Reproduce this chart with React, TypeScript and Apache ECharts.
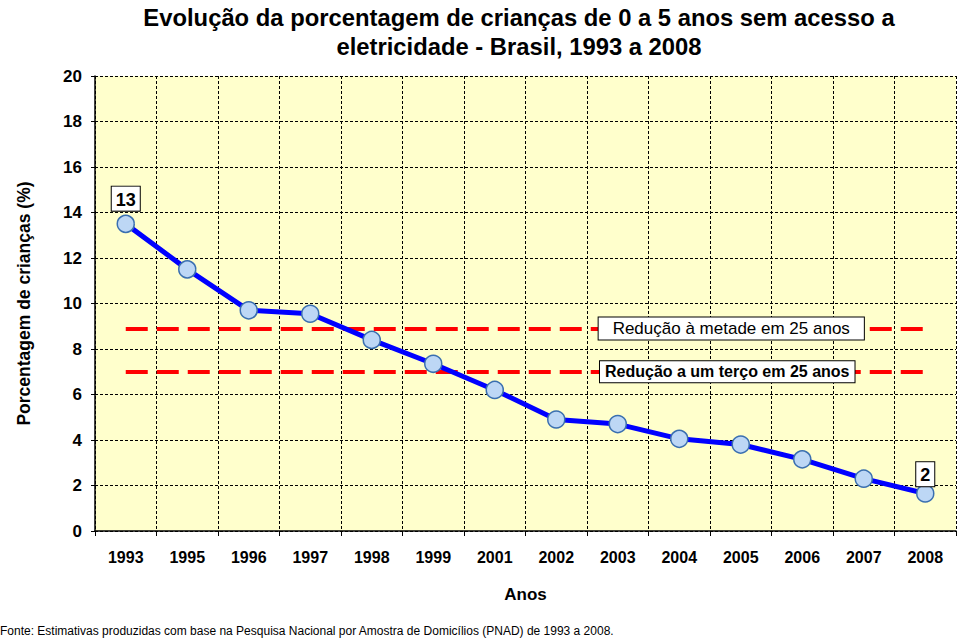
import React, { useEffect, useRef } from "react";
import * as echarts from "echarts";

const years = ["1993", "1995", "1996", "1997", "1998", "1999", "2001", "2002", "2003", "2004", "2005", "2006", "2007", "2008"];
const values = [13.5, 11.5, 9.7, 9.55, 8.4, 7.35, 6.2, 4.9, 4.7, 4.05, 3.8, 3.15, 2.3, 1.65];
const halfTarget = 8.9;
const thirdTarget = 7.0;
const pointLabels: Record<number, string> = { 0: "13", 13: "2" };
const titleLines = ["Evolução da porcentagem de crianças de 0 a 5 anos sem acesso a", "eletricidade - Brasil, 1993 a 2008"];
const sourceNote = "Fonte: Estimativas produzidas com base na Pesquisa Nacional por Amostra de Domicílios (PNAD) de 1993 a 2008.";

const FONT = "Liberation Sans, Arial, sans-serif";

export default function App() {
  const ref = useRef<HTMLDivElement>(null);
  useEffect(() => {
    document.body.style.margin = "0";
    const chart = echarts.init(ref.current!, null, { renderer: "svg" });
    const boxLabel = {
      backgroundColor: "#ffffff",
      borderColor: "#000000",
      borderWidth: 1,
      padding: [3, 5, 2, 5],
      color: "#000",
      fontFamily: FONT,
      fontWeight: "bold" as const,
      fontSize: 16,
    };
    const seriesData = values.map((v, i) =>
      pointLabels[i] !== undefined
        ? {
            value: v,
            label: {
              show: true,
              position: "top",
              distance: i === 0 ? 4 : -2,
              formatter: pointLabels[i],
              ...boxLabel,
              fontSize: 18,
              padding: [4, 4, 2, 4],
            },
          }
        : { value: v }
    );
    chart.setOption({
      animation: false,
      backgroundColor: "#ffffff",
      title: {
        text: titleLines.join("\n"),
        left: 514,
        textAlign: "center",
        top: -2,
        textStyle: { fontFamily: FONT, fontWeight: "bold", fontSize: 23.8, lineHeight: 29, color: "#000" },
      },
      graphic: [
        {
          type: "text",
          left: 0,
          top: 625,
          style: { text: sourceNote, fontFamily: FONT, fontSize: 12, fill: "#000" },
        },
      ],
      grid: {
        left: 95,
        right: 4,
        top: 76,
        bottom: 111,
        backgroundColor: "#FFFFCC",
        show: true,
        borderWidth: 0,
        containLabel: false,
        outerBoundsMode: "none",
      },
      xAxis: {
        type: "category",
        data: years,
        boundaryGap: true,
        name: "Anos",
        nameLocation: "middle",
        nameGap: 55,
        nameTextStyle: { fontFamily: FONT, fontWeight: "bold", fontSize: 17, color: "#000" },
        axisLine: { lineStyle: { color: "#000", width: 1.5 } },
        axisTick: { show: true, length: 5, lineStyle: { color: "#000" } },
        axisLabel: { fontFamily: FONT, fontWeight: "bold", fontSize: 16, color: "#000", margin: 18 },
        splitLine: { show: true, lineStyle: { color: "#000", type: [3, 2], width: 1 } },
      },
      yAxis: {
        type: "value",
        min: 0,
        max: 20,
        interval: 2,
        name: "Porcentagem de crianças (%)",
        nameLocation: "middle",
        nameGap: 62,
        nameRotate: 90,
        nameTextStyle: { fontFamily: FONT, fontWeight: "bold", fontSize: 17.5, color: "#000" },
        axisLine: { show: true, lineStyle: { color: "#000", width: 1.5 } },
        axisTick: { show: true, length: 4, lineStyle: { color: "#000" } },
        axisLabel: { fontFamily: FONT, fontWeight: "bold", fontSize: 17, color: "#000", margin: 13 },
        splitLine: { show: true, lineStyle: { color: "#000", type: [3, 2], width: 1 } },
      },
      series: [
        {
          type: "line",
          data: seriesData,
          symbol: "circle",
          symbolSize: 17,
          lineStyle: { color: "#0000FF", width: 5 },
          itemStyle: { color: "#BDD7F5", borderColor: "#3A6FB0", borderWidth: 1.5 },
          z: 5,
          markLine: {
            silent: true,
            symbol: "none",
            lineStyle: { color: "#FF0000", width: 4, type: [22, 9] },
            label: { show: false },
            data: [
              [{ coord: [years[0], halfTarget] }, { coord: [years[years.length - 1], halfTarget] }],
              [{ coord: [years[0], thirdTarget] }, { coord: [years[years.length - 1], thirdTarget] }],
            ],
            z: 3,
          },
          markPoint: {
            silent: true,
            symbol: "rect",
            symbolSize: 1,
            itemStyle: { color: "transparent" },
            data: [
              {
                coord: ["2004", halfTarget],
                label: { show: true, position: "inside", offset: [52, 0], formatter: "Redução à metade em 25 anos", ...boxLabel, fontWeight: "normal", fontSize: 17, padding: [3, 14, 2, 14] },
              },
              {
                coord: ["2004", thirdTarget],
                label: { show: true, position: "inside", offset: [48, 0], formatter: "Redução a um terço em 25 anos", ...boxLabel, fontWeight: "bold", fontSize: 16, padding: [3, 5, 2, 5] },
              },
            ],
          },
        },
      ],
    });
    return () => chart.dispose();
  }, []);
  return <div ref={ref} style={{ width: 960, height: 642, position: "absolute", left: 0, top: 0 }} />;
}
